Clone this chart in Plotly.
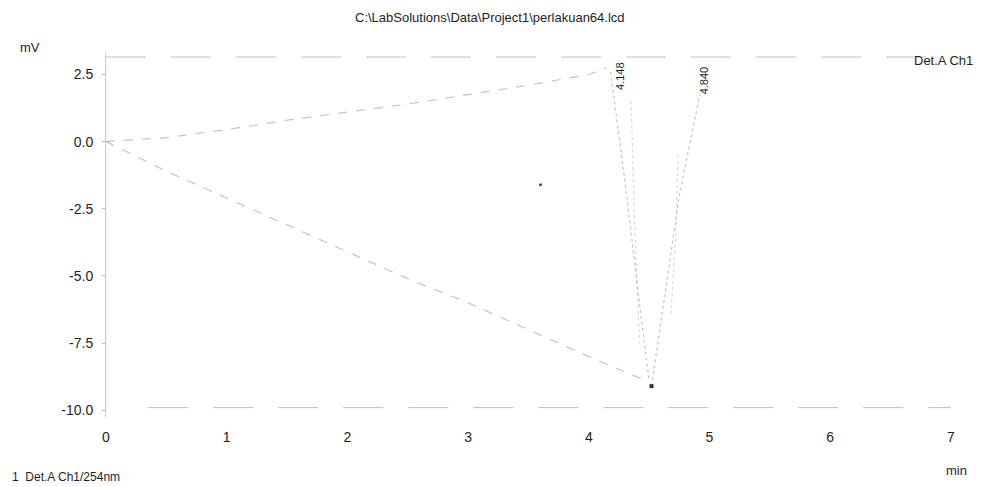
import plotly.graph_objects as go

# Chromatogram trace (min, mV)
rise_t = [0.0, 0.5, 1.0, 1.5, 2.0, 2.5, 3.0, 3.5, 4.0, 4.15]
rise_mv = [0.0, 0.15, 0.45, 0.8, 1.1, 1.4, 1.75, 2.1, 2.5, 2.75]

fall_t = [0.0, 0.5, 1.0, 1.5, 2.0, 2.5, 3.0, 3.5, 4.0, 4.5]
fall_mv = [0.0, -1.1, -2.1, -3.1, -4.1, -5.1, -6.0, -7.0, -8.0, -8.95]

drop_t = [4.18, 4.3, 4.42, 4.5]
drop_mv = [2.6, -1.5, -6.0, -8.9]

peak_t = [4.52, 4.62, 4.75, 4.92]
peak_mv = [-9.1, -6.0, -2.0, 1.75]

ghost_t = [4.35, 4.38, 4.42]
ghost_mv = [1.5, -3.0, -7.5]

ghost2_t = [4.74, 4.72, 4.68]
ghost2_mv = [-0.5, -3.5, -6.5]

dot_t = [3.6]
dot_mv = [-1.6]

frame_top_t = [0.0, 7.0]
frame_top_mv = [3.15, 3.15]
frame_bot_t = [0.35, 7.0]
frame_bot_mv = [-9.9, -9.9]

peak_names = ["4.148", "4.840"]
peak_label_t = [4.26, 4.95]
peak_label_mv = [2.45, 2.3]

x_ticks = [0, 1, 2, 3, 4, 5, 6, 7]
y_ticks = [2.5, 0.0, -2.5, -5.0, -7.5, -10.0]

line_col = "rgba(150,150,150,0.55)"
txt = "#1e1e1e"
font = "Liberation Sans, Arial, sans-serif"

# page offset of the figure (body margin) and plot box in page pixels
OFF = 8
L, T, W, H = 106 - OFF, 53 - OFF, 869, 364

fig = go.Figure()

def add_line(x, y, dash="dash", col=line_col, w=1.2):
    fig.add_trace(go.Scatter(x=x, y=y, mode="lines",
                             line=dict(color=col, width=w, dash=dash),
                             hoverinfo="skip", showlegend=False))

add_line(frame_top_t, frame_top_mv, dash="40px,25px", col="rgba(110,110,110,0.45)", w=1)
add_line(frame_bot_t, frame_bot_mv, dash="40px,25px", col="rgba(110,110,110,0.45)", w=1)
add_line(rise_t, rise_mv)
add_line(fall_t, fall_mv)
add_line(drop_t, drop_mv, dash="dot")
add_line(peak_t, peak_mv, dash="dot")
add_line(ghost_t, ghost_mv, dash="dot", col="rgba(170,170,170,0.45)")
add_line(ghost2_t, ghost2_mv, dash="dot", col="rgba(170,170,170,0.45)")

fig.add_trace(go.Scatter(x=dot_t, y=dot_mv, mode="markers",
                         marker=dict(color="#444", size=3),
                         hoverinfo="skip", showlegend=False))
fig.add_trace(go.Scatter(x=[4.52], y=[-9.1], mode="markers",
                         marker=dict(color="#333", size=4, symbol="square"),
                         hoverinfo="skip", showlegend=False))

for name, t, v in zip(peak_names, peak_label_t, peak_label_mv):
    fig.add_annotation(x=t, y=v, text=name, textangle=-90, showarrow=False,
                       font=dict(family=font, size=11, color=txt))

fig.update_layout(
    width=983, height=487,
    paper_bgcolor="white", plot_bgcolor="white",
    margin=dict(l=L, r=983 - L - W, t=T, b=487 - T - H),
    font=dict(family=font, size=13, color=txt),
    xaxis=dict(range=[0, 7.2], tickvals=x_ticks, ticktext=[str(v) for v in x_ticks],
               showgrid=False, zeroline=False, showline=False, ticks="",
               ticklabelstandoff=10, tickfont=dict(size=14)),
    yaxis=dict(range=[-10.25, 3.3], tickvals=y_ticks,
               ticktext=[f"{v:.1f}" for v in y_ticks],
               showgrid=False, zeroline=False,
               showline=True, linecolor="rgba(150,150,150,0.5)", linewidth=1,
               ticks="outside", ticklen=3, tickcolor="rgba(150,150,150,0.6)",
               tickfont=dict(size=14), ticklabelstandoff=6),
)


def page_text(px, py, text, size=13, xanchor="center"):
    fig.add_annotation(xref="paper", yref="paper",
                       x=(px - OFF - L) / W, y=1 - (py - OFF - T) / H,
                       xanchor=xanchor, yanchor="middle", text=text, showarrow=False,
                       font=dict(family=font, size=size, color=txt))


page_text(490, 18, "C:\\LabSolutions\\Data\\Project1\\perlakuan64.lcd")
page_text(30, 47, "mV")
page_text(975, 60, "Det.A Ch1", xanchor="right")
page_text(956, 470, "min")
page_text(10, 477, "1  Det.A Ch1/254nm", size=12, xanchor="left")

fig.write_html("out.html")
